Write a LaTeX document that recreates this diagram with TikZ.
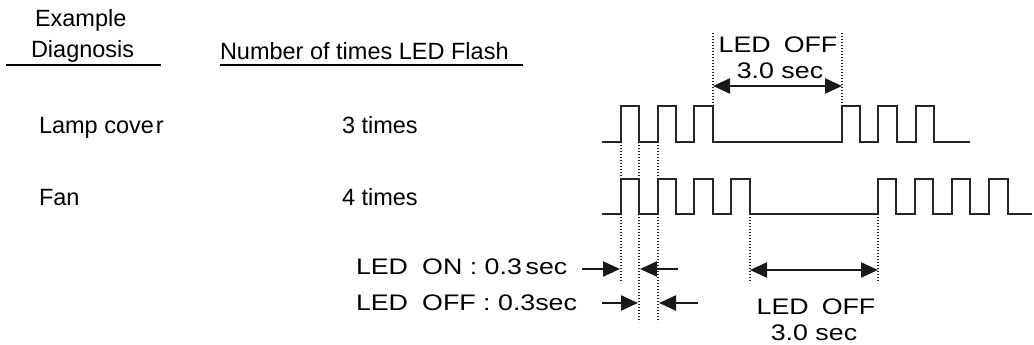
\documentclass[tikz,border=0pt]{standalone}
\usepackage{fontspec}
\setmainfont{Liberation Sans}
\newfontfamily\widefont[FakeStretch=1.19]{Liberation Sans}
\usetikzlibrary{arrows.meta}
\begin{document}
\begin{tikzpicture}[x=1pt,y=-1pt,
  txt/.style={inner sep=0pt,outer sep=0pt,font=\fontsize{23.5}{27}\selectfont,text=black},
  wtxt/.style={inner sep=0pt,outer sep=0pt,font=\widefont\fontsize{22.5}{27}\selectfont,text=black},
  wave/.style={line width=2.2pt,black!85,line join=miter},
  uline/.style={line width=2.2pt,black},
  dots/.style={line width=1.2pt,black!85,dash pattern=on 1.2pt off 1.8pt},
  dim/.style={line width=2.2pt,black!90},
  tip/.style={-{Triangle[length=17pt,width=15pt]}},
  tips/.style={{Triangle[length=17pt,width=15pt]}-{Triangle[length=17pt,width=15pt]}}]
\useasboundingbox (0,0) rectangle (1034,345);

% headers
\node[txt,anchor=base west] (ex) at (35,27) {Example};
\node[txt,anchor=base west] (dg) at (31,58) {Diagnosis};
\coordinate (u1a) at (6,65); \coordinate (u1b) at (161,65);
\draw[uline] (u1a) -- (u1b);
\node[txt,anchor=base west] (nb) at (220,60) {Number of times LED Flash};
\coordinate (u2a) at (220,65); \coordinate (u2b) at (523,65);
\draw[uline] (u2a) -- (u2b);

% rows
\node[txt,anchor=base west] (lc) at (39,133) {Lamp cove\kern2pt r};
\node[txt,anchor=base west] (t3) at (342,133) {3 times};
\node[txt,anchor=base west] (fn) at (39,205) {Fan};
\node[txt,anchor=base west] (t4) at (342,205) {4 times};

% dotted guide lines
\coordinate (d1t) at (713,33);  \coordinate (d1b) at (713,106);
\coordinate (d2t) at (842,33);  \coordinate (d2b) at (842,106);
\draw[dots] (d1t) -- (d1b);
\draw[dots] (d2t) -- (d2b);
\coordinate (g1t) at (621,142); \coordinate (g1b) at (621,283);
\coordinate (g2t) at (639,142); \coordinate (g2b) at (639,322);
\coordinate (g3t) at (658,142); \coordinate (g3b) at (658,322);
\draw[dots] (g1t) -- (g1b);
\draw[dots] (g2t) -- (g2b);
\draw[dots] (g3t) -- (g3b);
\coordinate (h1t) at (750,214); \coordinate (h1b) at (750,283);
\coordinate (h2t) at (878,214); \coordinate (h2b) at (878,283);
\draw[dots] (h1t) -- (h1b);
\draw[dots] (h2t) -- (h2b);

% top waveform (3 flashes)
\draw[wave] (602,142) -- (621,142) -- (621,106) -- (639,106) -- (639,142)
  -- (658,142) -- (658,106) -- (676,106) -- (676,142)
  -- (694,142) -- (694,106) -- (713,106) -- (713,142)
  -- (842,142) -- (842,106) -- (860,106) -- (860,142)
  -- (878,142) -- (878,106) -- (897,106) -- (897,142)
  -- (916,142) -- (916,106) -- (934,106) -- (934,142) -- (970,142);

% bottom waveform (4 flashes)
\draw[wave] (602,214) -- (621,214) -- (621,179) -- (639,179) -- (639,214)
  -- (658,214) -- (658,179) -- (676,179) -- (676,214)
  -- (694,214) -- (694,179) -- (713,179) -- (713,214)
  -- (731,214) -- (731,179) -- (750,179) -- (750,214)
  -- (878,214) -- (878,179) -- (896,179) -- (896,214)
  -- (915,214) -- (915,179) -- (933,179) -- (933,214)
  -- (952,214) -- (952,179) -- (970,179) -- (970,214)
  -- (989,214) -- (989,179) -- (1008,179) -- (1008,214) -- (1032,214);

% top LED OFF dimension
\node[wtxt,anchor=base] (toff) at (778,53) {LED\hspace{0.25em} OFF};
\node[wtxt,anchor=base] (tsec) at (780,78) {3.0 sec};
\coordinate (ta) at (713,86); \coordinate (tb) at (842,86);
\draw[dim,tips] (ta) -- (tb);

% LED ON / OFF labels
\node[wtxt,anchor=base west] (lon) at (356,274) {LED\hspace{0.3em} ON : 0.3\,sec};
\node[wtxt,anchor=base west] (loff) at (356,310) {LED\hspace{0.3em} OFF : 0.3sec};
\coordinate (a1s) at (582,269); \coordinate (a1e) at (620,269);
\coordinate (a2s) at (678,269); \coordinate (a2e) at (640,269);
\draw[dim,tip] (a1s) -- (a1e);
\draw[dim,tip] (a2s) -- (a2e);
\coordinate (b1s) at (602,303); \coordinate (b1e) at (638,303);
\coordinate (b2s) at (698,303); \coordinate (b2e) at (659,303);
\draw[dim,tip] (b1s) -- (b1e);
\draw[dim,tip] (b2s) -- (b2e);

% bottom LED OFF dimension
\coordinate (ba) at (750,270); \coordinate (bb) at (878,270);
\draw[dim,tips] (ba) -- (bb);
\node[wtxt,anchor=base] (boff) at (816,314) {LED\hspace{0.25em} OFF};
\node[wtxt,anchor=base] (bsec) at (814,340) {3.0 sec};
\end{tikzpicture}
\end{document}
